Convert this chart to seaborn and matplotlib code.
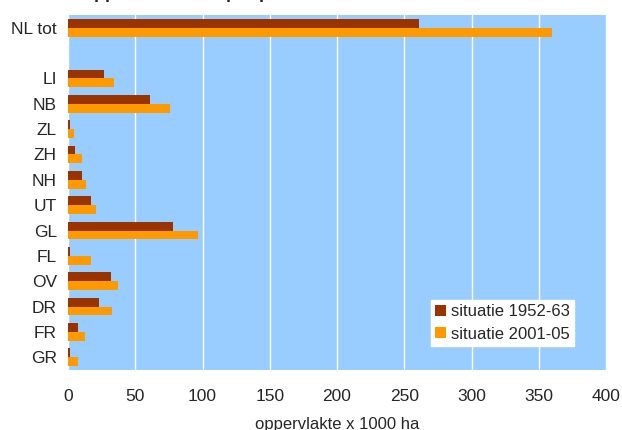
import pandas as pd
import matplotlib
matplotlib.use("Agg")
import matplotlib.pyplot as plt
import seaborn as sns

# data (1000 ha)
regio = ['NL tot', 'LI', 'NB', 'ZL', 'ZH', 'NH', 'UT', 'GL', 'FL', 'OV', 'DR', 'FR', 'GR']
sit_1952 = [261, 26.7, 60.9, 1.5, 5.2, 10.4, 17.1, 78, 1.5, 31.9, 23, 7.4, 1.5]
sit_2001 = [360, 34.2, 75.8, 4.5, 10.4, 13.4, 20.8, 96.6, 17.1, 37.1, 32.7, 12.6, 7.4]
reeks = ['situatie 1952-63', 'situatie 2001-05']
kleuren = ['#993300', '#FF9900']

df = pd.DataFrame({'regio': regio, reeks[0]: sit_1952, reeks[1]: sit_2001})
df = df.melt(id_vars='regio', var_name='reeks', value_name='opp')

sns.set_style('white')
plt.rcParams['font.family'] = ['Liberation Sans', 'DejaVu Sans']

fig = plt.figure(figsize=(6.22, 4.30), dpi=100)
ax = fig.add_axes([68 / 622, 1 - 370 / 430, 538 / 622, 355 / 430])

# lege plek tussen NL tot en de provincies
volgorde = ['NL tot', ' '] + regio[1:]
sns.barplot(data=df, y='regio', x='opp', hue='reeks', order=volgorde, hue_order=reeks,
            palette=kleuren, orient='h', width=0.7, saturation=1, linewidth=0,
            ax=ax, zorder=3)

ax.set_facecolor('#99CCFF')
ax.set_xlim(0, 400)
ax.set_xticks(range(0, 401, 50))
ax.grid(axis='x', color='white', linewidth=1.0, zorder=0)
ax.set_axisbelow(True)
for s in ax.spines.values():
    s.set_visible(False)
ax.tick_params(axis='x', length=0, pad=14, labelsize=12.5)
ax.tick_params(axis='y', length=0, pad=8, labelsize=12.5)
ax.set_ylabel('')
ax.set_xlabel('oppervlakte x 1000 ha', fontsize=12, labelpad=9)

leg = ax.legend(loc='lower right', bbox_to_anchor=(0.941, 0.068), frameon=True, fancybox=False,
                edgecolor='white', facecolor='white', framealpha=1, fontsize=12,
                handlelength=0.65, handleheight=0.65, handletextpad=0.3, borderpad=0.25,
                labelspacing=0.45, borderaxespad=0)

# titel valt grotendeels buiten beeld
fig.text(80 / 622, 1 + 2 / 430, 'Oppervlakte bos per provincie', fontsize=13,
         fontweight='bold', va='baseline', ha='left')

fig.savefig('out.png', dpi=100)
